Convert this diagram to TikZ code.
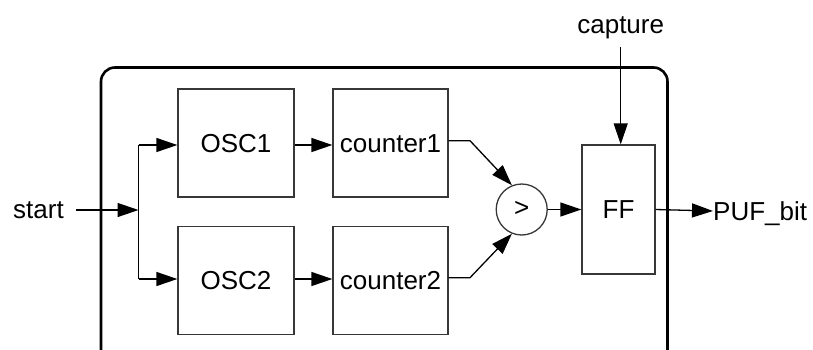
\documentclass[tikz,border=0pt]{standalone}
\usepackage{fontspec}
\setmainfont{Liberation Sans}
\usetikzlibrary{arrows.meta}
\definecolor{ln}{RGB}{55,55,55}
\begin{document}
\begin{tikzpicture}[x=1pt,y=-1pt,
  lbl/.style={font=\fontsize{26}{30}\selectfont, text height=18.5pt, text depth=0pt, inner sep=0pt},
  blk/.style={draw=ln, line width=1.3pt, inner sep=0pt},
  conn/.style={draw=black, line width=1.3pt, -{Triangle[length=21pt,width=14pt]}},
  plain/.style={draw=black, line width=1.3pt}]
\useasboundingbox (0,0) rectangle (813,349);
\clip (0,0) rectangle (813,349);
% outer frame
\draw[line width=2.6pt, rounded corners=14pt] (101,67.5) rectangle (667.5,370);
% blocks
\node[blk, minimum width=116pt, minimum height=108pt] (osc1) at (236,143) {};
\node[lbl] at (osc1.center) {OSC1};
\node[blk, minimum width=116pt, minimum height=108pt] (osc2) at (236,280.5) {};
\node[lbl] at (osc2.center) {OSC2};
\node[blk, minimum width=115pt, minimum height=108pt] (cnt1) at (390.5,143) {};
\node[lbl] at (cnt1.center) {counter1};
\node[blk, minimum width=115pt, minimum height=108pt] (cnt2) at (390.5,280.5) {};
\node[lbl] at (cnt2.center) {counter2};
\node[blk, circle, minimum size=51pt] (cmp) at (521.7,209.5) {};
\node[lbl, text height=14pt] at (cmp.center) {>};
\node[blk, minimum width=73pt, minimum height=129pt] (ff) at (618.5,209.5) {};
\node[lbl] at (ff.center) {FF};
% labels
\node[lbl, anchor=east] (start) at (64,209) {start};
\node[lbl] (capture) at (620.7,24) {capture};
\node[lbl, anchor=west] (puf) at (713,211) {PUF\_bit};
% coordinates
\coordinate (sS) at (76,210);
\coordinate (jn) at (138.5,210);
\coordinate (jt) at (138.5,145);
\coordinate (jb) at (138.5,279);
\coordinate (b1) at (470,140.7);
\coordinate (b2) at (470,277.7);
\coordinate (cT) at (620.7,47);
% connectors
\draw[conn] (sS) -- (jn);
\draw[plain] (jt) -- (jb);
\draw[conn] (jt) -- (jt -| osc1.west);
\draw[conn] (jb) -- (jb -| osc2.west);
\draw[conn] (osc1.east |- jt) -- (cnt1.west |- jt);
\draw[conn] (osc2.east |- jb) -- (cnt2.west |- jb);
\draw[conn] (cnt1.east |- b1) -- (b1) -- (cmp.112);
\draw[conn] (cnt2.east |- b2) -- (b2) -- (cmp.248);
\draw[conn] (cmp.east) -- (ff.west);
\draw[conn] (cT) -- (ff.north -| cT);
\draw[conn] (ff.east) -- (puf.west);
\end{tikzpicture}
\end{document}
